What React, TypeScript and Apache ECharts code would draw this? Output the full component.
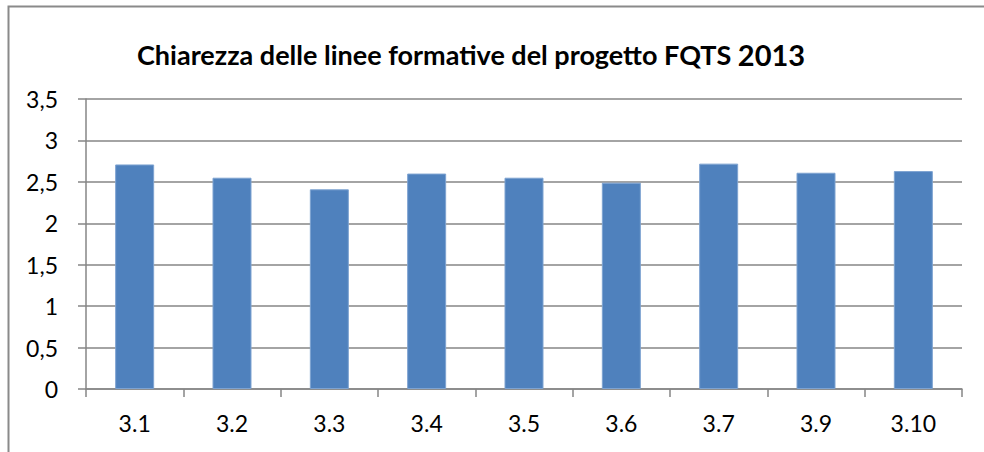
import React, { useEffect, useRef } from "react";
import * as echarts from "echarts";

const categories = ["3.1", "3.2", "3.3", "3.4", "3.5", "3.6", "3.7", "3.9", "3.10"];
const values = [2.71, 2.55, 2.41, 2.6, 2.55, 2.49, 2.72, 2.61, 2.63];
const titleText = "Chiarezza delle linee formative del progetto FQTS ";
const titleYear = "2013";

export default function App() {
  const ref = useRef<HTMLDivElement>(null);
  useEffect(() => {
    const chart = echarts.init(ref.current!, null, { renderer: "svg" });
    chart.setOption({
      animation: false,
      backgroundColor: "#ffffff",
      title: {
        text: "{a|" + titleText + "}{b|" + titleYear + "}",
        left: 132,
        top: 35,
        textStyle: {
          rich: {
            a: { fontFamily: "Lato", fontWeight: "bold", fontSize: 27, color: "#000" },
            b: { fontFamily: "Lato", fontWeight: "bold", fontSize: 29, color: "#000" },
          },
        },
      },
      graphic: [
        {
          type: "rect",
          shape: { x: 8.5, y: 6.5, width: 1000, height: 500 },
          style: { fill: "none", stroke: "#8a8a8a", lineWidth: 2 },
          silent: true,
        },
      ],
      grid: { left: 86, right: 22, top: 99, bottom: 63 },
      xAxis: {
        type: "category",
        data: categories,
        axisLine: { lineStyle: { color: "#868686", width: 1.5 } },
        axisTick: { show: true, length: 8, alignWithLabel: false, lineStyle: { color: "#868686", width: 1.5 } },
        axisLabel: { fontFamily: "Lato", fontSize: 23, color: "#000", margin: 22 },
      },
      yAxis: {
        type: "value",
        min: 0,
        max: 3.5,
        interval: 0.5,
        axisLine: { show: true, lineStyle: { color: "#868686", width: 1.5 } },
        axisTick: { show: true, length: 8, lineStyle: { color: "#868686", width: 1.5 } },
        splitLine: { lineStyle: { color: "#868686", width: 1.5 } },
        axisLabel: {
          fontFamily: "Lato",
          fontSize: 23,
          color: "#000",
          margin: 28,
          formatter: (v: number) => String(v).replace(".", ","),
        },
      },
      series: [
        {
          type: "bar",
          data: values,
          barWidth: 39,
          itemStyle: { color: "#4f81bd", borderColor: "#7ea3d1", borderWidth: 1 },
        },
      ],
    });
    return () => chart.dispose();
  }, []);
  return (
    <div
      ref={ref}
      style={{ position: "absolute", left: 0, top: 0, width: 984, height: 452 }}
    />
  );
}
